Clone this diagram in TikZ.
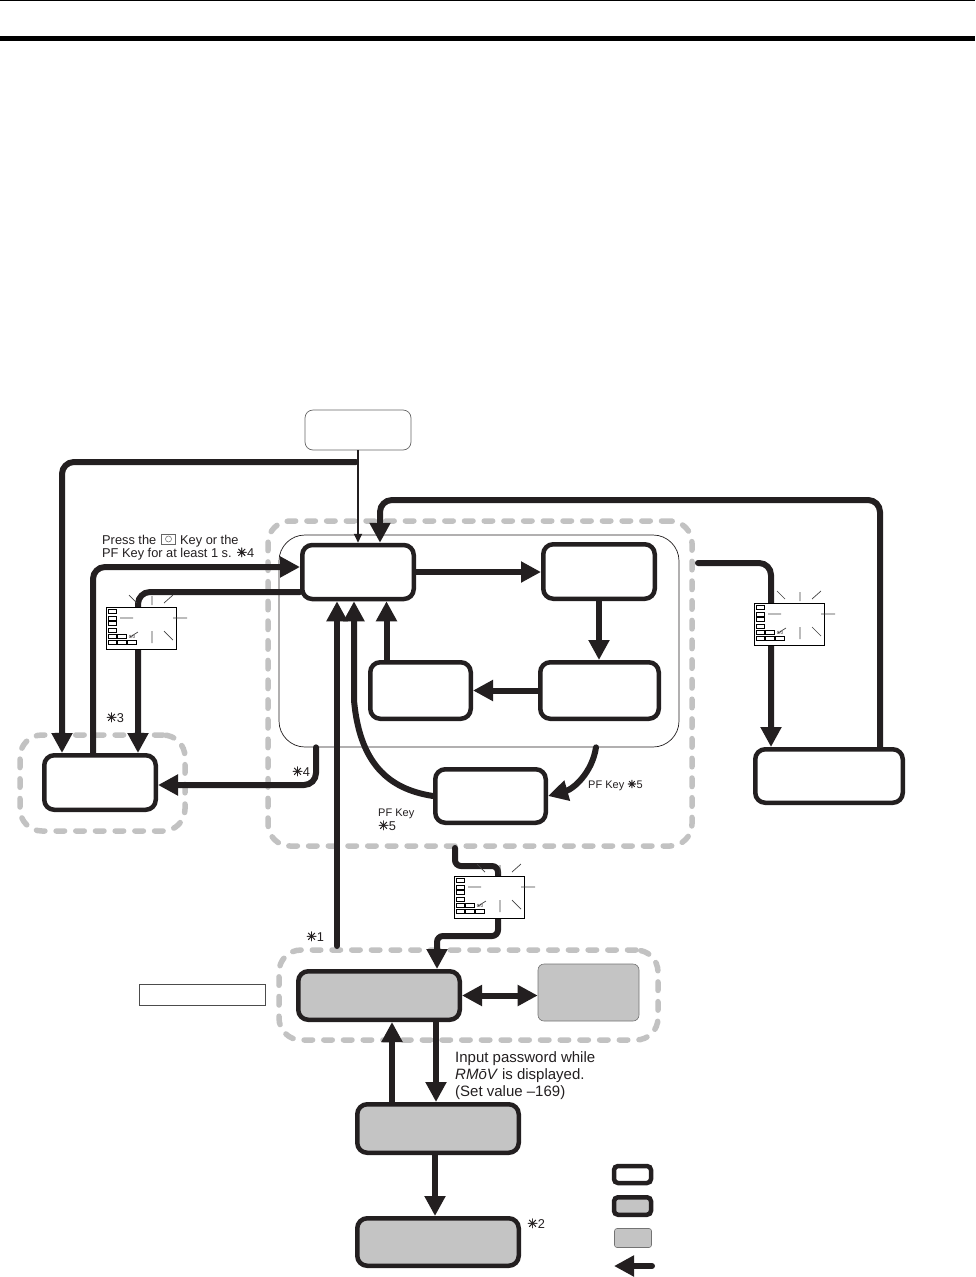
\documentclass[tikz,border=0pt]{standalone}
\usepackage{fontspec}
\setmainfont{Liberation Sans}
\newfontfamily\symf[RawFeature={embolden=1.5}]{DejaVu Sans}
\usetikzlibrary{arrows.meta,calc}
\newcommand{\starmark}{{\symf\char"2733}}
\definecolor{boxgray}{gray}{0.77}
\definecolor{dashgray}{gray}{0.76}
\definecolor{ink}{HTML}{231F20}
\tikzset{
  mbox/.style={draw=ink,line width=4.5pt,fill=white,rounded corners=10pt,inner sep=0pt},
  gbox/.style={mbox,fill=boxgray},
  pbox/.style={draw=black!55,line width=0.6pt,fill=boxgray,rounded corners=6pt,inner sep=0pt},
  thinbox/.style={draw=black!70,line width=0.7pt,fill=white,inner sep=0pt},
  dashbox/.style={draw=dashgray,line width=5.5pt,line cap=round,dash pattern=on 8.5pt off 11.2pt,rounded corners=22pt,inner sep=0pt},
  conn/.style={draw=ink,line width=6pt,line cap=round,rounded corners=12pt},
  flow/.style={conn,-{Triangle[length=20pt,width=20pt]}},
  twoway/.style={conn,{Triangle[length=20pt,width=20pt]}-{Triangle[length=20pt,width=20pt]}},
  lab/.style={inner sep=0pt,anchor=base west,font=\fontsize{12.8}{13}\selectfont,text=ink},
  smalllab/.style={lab,font=\fontsize{11}{12.5}\selectfont},
  pwlab/.style={lab,font=\fontsize{15}{16.5}\selectfont},
  disp/.pic={
    \draw[draw=black,line width=1pt,fill=white] (0,0) rectangle (70,42);
    \foreach \yy/\hh in {2.5/4,9/4,14.5/4,21/4.5}
      \draw[line width=0.8pt] (2,\yy) rectangle (10,\yy+\hh);
    \foreach \xx in {2,11.5}
      \draw[line width=0.8pt] (\xx,27.5) rectangle (\xx+8.5,31.5);
    \foreach \xx/\ww in {2/8.5,11.5/8.5,21/9}
      \draw[line width=0.8pt] (\xx,33.5) rectangle (\xx+\ww,37.5);
    \draw[line width=0.7pt,draw=black!75]
      (14,11)--(27,11) (67,11)--(81,11) (46,-11)--(46,-2) (46,24)--(46,36)
      (23,-12)--(31,-4) (58,-4)--(67,-12) (24,30)--(32,25) (58,24)--(67,33);
    \node[inner sep=0pt,font=\fontsize{4.5}{5}\selectfont,text=ink] at (26,29.5) {0/0};
  }
}
\begin{document}
\begin{tikzpicture}[x=1pt,y=-1pt]
\useasboundingbox (0,0) rectangle (975,1277);
% page header rules
\coordinate (h1l) at (0,0.5); \coordinate (h1r) at (975,0.5);
\coordinate (h2l) at (0,38); \coordinate (h2r) at (975,38);
\draw[line width=1.5pt,black] (h1l)--(h1r);
\draw[line width=5pt,black] (h2l)--(h2r);
% dashed mode groups
\node[dashbox,minimum width=424pt,minimum height=325pt] (gAdj) at (480,683.5) {};
\node[dashbox,minimum width=165pt,minimum height=96pt] (gMan) at (102.5,783) {};
\node[dashbox,minimum width=379pt,minimum height=90pt] (gProt) at (468.5,995) {};
% thin rounded frame
\node[draw=ink,line width=0.7pt,rounded corners=26pt,minimum width=400pt,minimum height=212pt,inner sep=0pt,fill=white] (frame) at (479,641) {};
% boxes
\node[draw=black!60,line width=0.7pt,fill=white,rounded corners=8pt,minimum width=106pt,minimum height=40pt,inner sep=0pt] (power) at (358,430) {};
\node[mbox,minimum width=111.5pt,minimum height=54pt] (A) at (358,572) {};
\node[mbox,minimum width=111.5pt,minimum height=54.5pt] (B) at (599,571.5) {};
\node[mbox,minimum width=118.5pt,minimum height=56.5pt] (C) at (599.5,690.5) {};
\node[mbox,minimum width=100.5pt,minimum height=56.5pt] (D) at (420.5,690.5) {};
\node[mbox,minimum width=110.5pt,minimum height=53.5pt] (E) at (490.5,796) {};
\node[mbox,minimum width=111.5pt,minimum height=54.5pt] (F) at (100,782.5) {};
\node[mbox,minimum width=147.5pt,minimum height=53.5pt] (G) at (829,776) {};
\node[gbox,minimum width=161.5pt,minimum height=48.5pt] (H) at (379,995.5) {};
\node[pbox,minimum width=101pt,minimum height=57pt] (I) at (588.5,992.5) {};
\node[gbox,minimum width=161.5pt,minimum height=48.5pt] (J) at (438,1128.5) {};
\node[gbox,minimum width=161.5pt,minimum height=47.5pt] (K) at (438,1242) {};
\node[thinbox,minimum width=126pt,minimum height=21pt] (tag) at (202,994.5) {};
% legend
\node[mbox,minimum width=37pt,minimum height=17pt,rounded corners=4pt] (l1) at (632.5,1174.5) {};
\node[gbox,minimum width=37pt,minimum height=17.5pt,rounded corners=4pt] (l2) at (632.5,1206) {};
\node[pbox,minimum width=37pt,minimum height=19pt,rounded corners=2.5pt] (l3) at (633,1238) {};
\coordinate (l4a) at (652,1266); \coordinate (l4b) at (614,1266);
\draw[flow,rounded corners=0pt] (l4a)--(l4b);
% connectors
\coordinate (pwrTurn) at (356,462);
\draw[draw=ink,line width=2pt,-{Triangle[length=9pt,width=8pt]}] (power.south)--(A.north);
\draw[flow] (pwrTurn)-|([xshift=-38pt]F.north);
\draw[flow] (A.east)--(A.east-|B.west);
\draw[flow] (B.south)--(B.south|-C.north);
\draw[flow] (C.west)--(D.east);
\draw[flow] ([xshift=-34pt]D.north)--([xshift=-34pt]D.north|-A.south);
\coordinate (pressUp) at (93,567);
\draw[flow] ([xshift=-7pt]F.north)--(pressUp)--([yshift=5pt]A.west);
\coordinate (dispTurn) at (138,592);
\draw[flow] ([yshift=-20pt]A.west)--(dispTurn)--(dispTurn|-F.north);
\coordinate (frameOut) at (316,785);
\draw[flow] (frameOut|-frame.south)--(frameOut)--(F.east|-frameOut);
\draw[flow,rounded corners=0pt] ([xshift=117pt]frame.south) .. controls +(-4,26) and +(25,-7) .. (E.east);
\coordinate (curveMid) at (354,700);
\draw[flow,rounded corners=0pt] (E.west) .. controls +(-38,-6) and (360,770) .. (curveMid) -- (curveMid|-A.south);
\coordinate (upStart) at (337,946);
\draw[flow] (upStart)--(upStart|-A.south);
\coordinate (gTurn) at (880,500);
\coordinate (gDrop) at (380,500);
\draw[flow] (gTurn|-G.north)--(gTurn)--(gDrop)--([xshift=22pt]A.north);
\coordinate (fOut) at (698,563);
\coordinate (fTurn) at (771,563);
\draw[flow] (fOut)--(fTurn)--(fTurn|-G.north);
\coordinate (d1) at (455,848); \coordinate (d2) at (455,866);
\coordinate (d3) at (498,866); \coordinate (d4) at (498,936);
\coordinate (d5) at (437,936);
\draw[flow,rounded corners=6pt] (d1)--(d2)--(d3)--(d4)--(d5)--(d5|-H.north);
\draw[twoway] (H.east)--(H.east-|I.west);
\coordinate (jUp) at (392,1100);
\coordinate (jDn) at (436,1020);
\draw[flow] (jUp|-J.north)--(jUp|-H.south);
\draw[flow] (jDn|-H.south)--(jDn|-J.north);
\draw[flow] ([xshift=-3pt]J.south)--([xshift=-3pt]K.north);
% displays
\path (106,607) pic {disp};
\path (454,876) pic {disp};
\path (754,603) pic {disp};
% key symbol
\node[draw=black!60,line width=0.5pt,minimum width=14pt,minimum height=10pt,inner sep=0pt] (keybox) at (168.5,539) {};
\node[draw=black!60,line width=0.5pt,circle,minimum size=6pt,inner sep=0pt] (keydot) at (keybox) {};
% labels
\node[lab] (t1) at (102,544) {Press the};
\node[lab] (t2) at (180,544) {Key or the};
\node[lab] (t3) at (102,557) {PF Key for at least 1 s. \starmark4};
\node[lab] (s3) at (106,722) {\starmark3};
\node[lab] (s4) at (292,776) {\starmark4};
\node[lab] (s1) at (306,941) {\starmark1};
\node[lab] (s2) at (527,1228) {\starmark2};
\node[smalllab] (pf1) at (588,788) {PF Key \starmark5};
\node[smalllab] (pf2) at (378,816) {PF Key};
\node[lab] (pf3) at (378,830) {\starmark5};
\node[pwlab] (pw1) at (455,1062) {Input password while};
\node[pwlab] (pw2) at (455,1079) {\textit{RM\=oV}\hspace{4pt}is displayed.};
\node[pwlab] (pw3) at (455,1096) {(Set value –169)};
\end{tikzpicture}
\end{document}
